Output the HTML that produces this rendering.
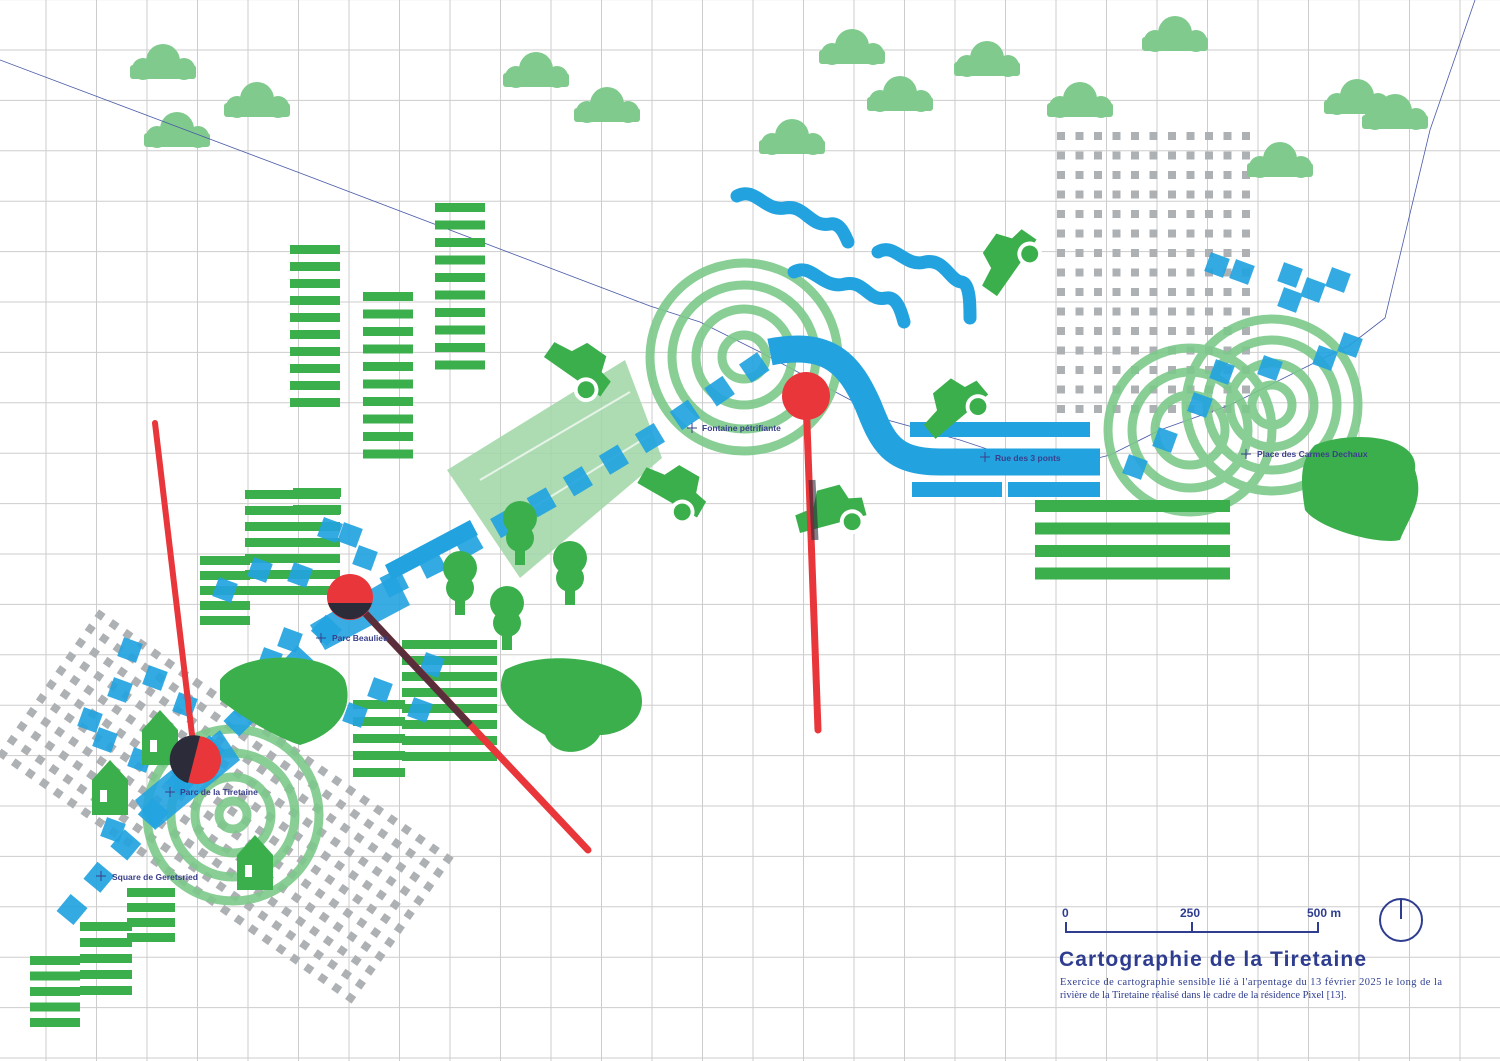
<!DOCTYPE html>
<html><head><meta charset="utf-8"><style>
html,body{margin:0;padding:0;background:#fff}
svg{display:block}
.lbl{font-family:"Liberation Sans",sans-serif;font-size:8.5px;font-weight:bold;fill:#3a3f8a}
</style></head><body>
<svg id="s" width="1500" height="1061" viewBox="0 0 1500 1061" xmlns="http://www.w3.org/2000/svg">
<g id="grid" stroke="#cdcdcd" stroke-width="1"></g>
<g id="greydots" fill="#aeb1b4"></g>
<g id="clouds" fill="#7fca8c"></g>
<polyline points="0,60 300,173 650,306 700,322 760,352 860,405 880,418 960,440 1050,470 1110,455 1160,430 1230,405 1300,370 1350,345 1385,318 1430,130 1475,0" fill="none" stroke="#4a5aa8" stroke-width="0.8"/>
<polygon points="447,470 625,360 662,458 520,578" fill="#9fd6a6" opacity="0.85"/>
<g stroke="#fff" stroke-width="2" opacity="0.7"><line x1="480" y1="480" x2="630" y2="392"/><line x1="505" y1="525" x2="650" y2="435"/></g>
<g fill="none" stroke="#7cc98a" stroke-width="9" opacity="0.9">
<circle cx="744" cy="357" r="22"/><circle cx="744" cy="357" r="48"/><circle cx="744" cy="357" r="72"/><circle cx="744" cy="357" r="94"/>
<circle cx="1272" cy="405" r="20"/><circle cx="1272" cy="405" r="42"/><circle cx="1272" cy="405" r="65"/><circle cx="1272" cy="405" r="86"/>
<circle cx="1190" cy="430" r="35"/><circle cx="1190" cy="430" r="58"/><circle cx="1190" cy="430" r="82"/>
<circle cx="233" cy="815" r="14"/><circle cx="233" cy="815" r="38"/><circle cx="233" cy="815" r="62"/><circle cx="233" cy="815" r="86"/>
</g>
<g id="stripes" fill="#3caf4d"></g>
<g fill="none" stroke="#22a3e0" stroke-width="13" stroke-linejoin="round" stroke-linecap="round">
<path d="M737,196 C755,186 765,212 785,208 C805,204 810,228 830,224 C840,222 845,235 848,242"/>
<path d="M794,272 C812,262 822,290 845,284 C865,280 868,302 886,298 C898,296 902,315 904,322"/>
<path d="M878,252 C895,242 905,268 925,262 C945,258 950,282 962,282 C970,284 970,305 970,318"/>
</g>
<path d="M770,352 C830,340 850,365 868,405 C882,440 890,462 940,462 L1100,462" fill="none" stroke="#22a3e0" stroke-width="27"/>
<g fill="#22a3e0"><rect x="910" y="422" width="180" height="15"/><rect x="912" y="482" width="90" height="15"/><rect x="1008" y="482" width="92" height="15"/></g>
<g id="blue" fill="#22a3e0" opacity="0.92"></g>
<polyline points="65,918 130,840 200,760 280,680 350,605 440,560 560,492 660,432 768,358" fill="none" stroke="#22a3e0" stroke-width="22" stroke-dasharray="22 20" opacity="0.92"/>
<polygon points="135,800 220,730 240,760 155,830" fill="#22a3e0" opacity="0.9"/>
<polygon points="310,625 395,575 410,605 325,650" fill="#22a3e0" opacity="0.9"/>
<polygon points="385,565 470,520 478,535 392,580" fill="#22a3e0"/>
<g id="objs" fill="#3caf4d"></g>
<g stroke="#e8363a" stroke-width="6" stroke-linecap="round">
<line x1="155" y1="423" x2="195" y2="760"/>
<line x1="350" y1="597" x2="588" y2="850" stroke-width="7"/>
<line x1="806" y1="396" x2="818" y2="730" stroke-width="7"/>
</g>
<line x1="350" y1="597" x2="470" y2="725" stroke="#2b2b3a" stroke-width="7" opacity="0.75"/>
<line x1="812" y1="480" x2="815" y2="540" stroke="#2b2b3a" stroke-width="7" opacity="0.6"/>
<circle cx="806" cy="396" r="24" fill="#e8363a"/>
<circle cx="350" cy="597" r="23" fill="#e8363a"/>
<path d="M328,603 A23,23 0 0 0 372,603 Z" fill="#2b2b3a"/>
<circle cx="197" cy="760" r="24" fill="#e8363a"/>
<path d="M200,736 A24,24 0 0 0 188,783 Z" fill="#2b2b3a"/>
<g stroke="#3a3f8a" stroke-width="1">
<path d="M687,428h10M692,423v10"/><path d="M980,457h10M985,452v10"/><path d="M1241,454h10M1246,449v10"/>
<path d="M316,638h10M321,633v10"/><path d="M165,792h10M170,787v10"/><path d="M96,876h10M101,871v10"/>
</g>
<text class="lbl" x="702" y="431">Fontaine pétrifiante</text>
<text class="lbl" x="995" y="461">Rue des 3 ponts</text>
<text class="lbl" x="1257" y="457">Place des Carmes Dechaux</text>
<text class="lbl" x="332" y="641">Parc Beaulieu</text>
<text class="lbl" x="180" y="795">Parc de la Tiretaine</text>
<text class="lbl" x="112" y="880">Square de Geretsried</text>
<g fill="#2e3d8f" font-family="Liberation Sans,sans-serif" font-weight="bold" font-size="12">
<text x="1062" y="917">0</text><text x="1180" y="917">250</text><text x="1307" y="917">500 m</text>
</g>
<path d="M1066,922v10H1318v-10M1192,922v10" fill="none" stroke="#2e3d8f" stroke-width="2"/>
<circle cx="1401" cy="920" r="21" fill="none" stroke="#2e3d8f" stroke-width="2"/>
<line x1="1401" y1="899" x2="1401" y2="919" stroke="#2e3d8f" stroke-width="2"/>
<text x="1059" y="966" font-family="Liberation Sans,sans-serif" font-weight="bold" font-size="21" fill="#2e3d8f" textLength="307">Cartographie de la Tiretaine</text>
<text x="1060" y="985" font-family="Liberation Serif,serif" font-size="10.4" fill="#2e3d8f" textLength="382">Exercice de cartographie sensible lié à l'arpentage du 13 février 2025 le long de la</text>
<text x="1060" y="998" font-family="Liberation Serif,serif" font-size="10.4" fill="#2e3d8f">rivière de la Tiretaine réalisé dans le cadre de la résidence Pixel [13].</text>
</svg>
<script>
var NS="http://www.w3.org/2000/svg";
function el(p,t,a){var e=document.createElementNS(NS,t);for(var k in a)e.setAttribute(k,a[k]);document.getElementById(p).appendChild(e);return e;}
for(var x=-4.5;x<1500;x+=50.5)el("grid","line",{x1:x,y1:0,x2:x,y2:1061});
for(var y=-0.4;y<1061;y+=50.4)el("grid","line",{x1:0,y1:y,x2:1500,y2:y});
for(var i=0;i<11;i++)for(var j=0;j<15;j++)el("greydots","rect",{x:1057+i*18.5,y:132+j*19.5,width:8,height:8});
var a=35*Math.PI/180,ux=Math.cos(a),uy=Math.sin(a),vx=-uy,vy=ux;
for(var i=0;i<26;i++)for(var j=0;j<11;j++){var px=100+ux*i*17+vx*j*17,py=615+uy*i*17+vy*j*17;
el("greydots","rect",{x:px-4,y:py-4,width:8,height:8,transform:"rotate(35 "+px+" "+py+")"});}
[[163,65],[257,103],[177,133],[536,73],[607,108],[852,50],[987,62],[900,97],[792,140],[1080,103],[1175,37],[1357,100],[1395,115],[1280,163]].forEach(function(c){
var x=c[0],y=c[1];el("clouds","rect",{x:x-33,y:y,width:66,height:14,rx:3});
el("clouds","circle",{cx:x-20,cy:y+4,r:11});el("clouds","circle",{cx:x,cy:y-4,r:17});el("clouds","circle",{cx:x+21,cy:y+4,r:11});});
function stack(x,y0,w,n,sp,h){for(var k=0;k<n;k++)el("stripes","rect",{x:x,y:y0+k*sp,width:w,height:h||9});}
stack(290,245,50,10,17);stack(363,292,50,10,17.5);stack(435,203,50,10,17.5);
stack(1035,500,195,4,22.5,12);
stack(200,556,50,5,15);stack(245,490,95,7,16);stack(293,488,48,2,17);
stack(402,640,95,8,16);stack(353,700,52,5,17);
stack(127,888,48,4,15);stack(80,922,52,5,16);stack(30,956,50,5,15.5);
[[1217,265],[1242,272],[1290,275],[1313,290],[1338,280],[1290,300],[1350,345],[1325,358],[1270,368],[1222,372],[1200,405],[1165,440],[1135,467],
[90,720],[105,740],[120,690],[155,678],[130,650],[270,660],[290,640],[225,590],[260,570],[300,575],[330,530],[350,535],[365,558],[185,705],[140,760],[113,830],[330,530],[380,690],[355,715],[432,665],[420,710]].forEach(function(p){
el("blue","rect",{x:p[0]-10,y:p[1]-10,width:20,height:20,transform:"rotate(20 "+p[0]+" "+p[1]+")"});});
function car(x,y,r){var g=el("objs","g",{transform:"translate("+x+" "+y+") rotate("+r+") scale(1.3)"});
var e=document.createElementNS(NS,"path");e.setAttribute("d","M-25,-4 L-10,-6 L-4,-18 L14,-18 L18,-6 L28,-4 L28,10 L-25,10Z");g.appendChild(e);
var c=document.createElementNS(NS,"circle");c.setAttribute("cx",16);c.setAttribute("cy",12);c.setAttribute("r",8);c.setAttribute("stroke","#fff");c.setAttribute("stroke-width","3");g.appendChild(c);}
car(578,365,35);car(672,488,30);car(828,512,-15);car(952,408,-40);car(1005,262,-55);
[[460,570],[520,520],[570,560],[507,605]].forEach(function(t){el("objs","rect",{x:t[0]-5,y:t[1],width:10,height:45});el("objs","circle",{cx:t[0],cy:t[1]-2,r:17});el("objs","circle",{cx:t[0],cy:t[1]+18,r:14});});
el("objs","path",{d:"M505,670 C540,650 620,655 640,690 C650,720 620,735 600,735 C590,755 555,760 545,735 C520,720 490,700 505,670Z"});
el("objs","path",{d:"M220,680 C240,650 330,650 345,680 C355,710 335,735 300,745 C270,735 240,715 220,700Z"});
el("objs","path",{d:"M1315,445 C1350,430 1420,435 1415,470 C1425,500 1410,515 1400,540 C1380,545 1320,530 1305,510 C1300,480 1300,460 1315,445Z"});
[[110,785],[160,735],[255,860]].forEach(function(h){el("objs","path",{d:"M"+(h[0]-18)+","+(h[1]+30)+"V"+(h[1]-5)+"L"+h[0]+","+(h[1]-25)+"L"+(h[0]+18)+","+(h[1]-5)+"V"+(h[1]+30)+"Z"});
el("objs","rect",{x:h[0]-10,y:h[1]+5,width:7,height:12,fill:"#fff"});});
</script>
</body></html>
